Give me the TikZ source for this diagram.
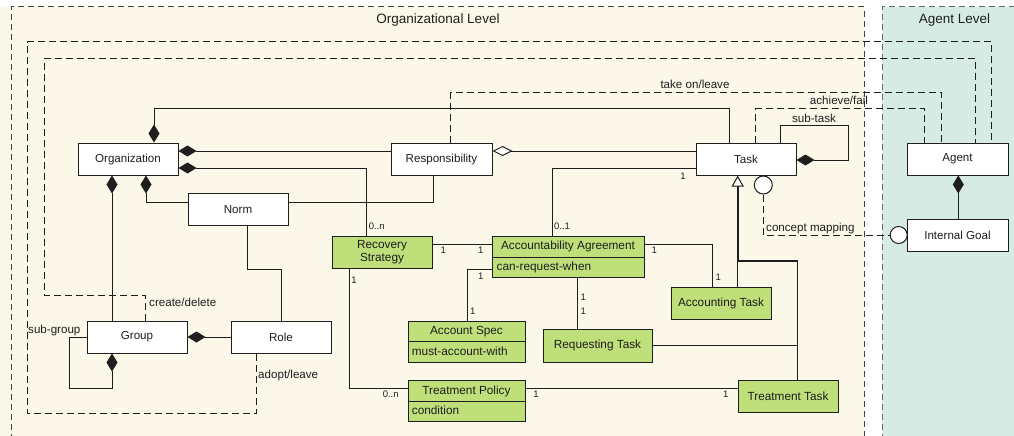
\documentclass[tikz,border=0pt]{standalone}
\usepackage{fontspec}
\setmainfont{Liberation Sans}
\usetikzlibrary{arrows.meta}
\definecolor{umlgreen}{RGB}{190,223,122}
\definecolor{orgbg}{RGB}{251,248,233}
\definecolor{agentbg}{RGB}{214,235,227}
\definecolor{ink}{RGB}{30,30,30}
\tikzset{
  box/.style={draw=ink, line width=1pt, fill=white, minimum width=100pt,
    minimum height=32pt, inner sep=0pt, text=ink, font=\fontsize{11.6}{13}\selectfont},
  gbox/.style={box, fill=umlgreen, font=\fontsize{11.8}{12.7}\selectfont},
  conn/.style={draw=ink, line width=1pt},
  comp/.style={conn, {Diamond[length=18pt,width=11pt,fill=ink]}-},
  agg/.style={conn, {Diamond[length=20pt,width=10pt,fill=white]}-},
  gen/.style={conn, line width=1.6pt, {Triangle[open,length=11pt,width=12pt,fill=white,line width=1pt]}-},
  dsh/.style={conn, dash pattern=on 7pt off 4pt},
  region/.style={draw=black!75, line width=1pt, dash pattern=on 6pt off 4pt},
  mult/.style={font=\fontsize{9.5}{11}\selectfont, inner sep=0pt, text=ink},
  lbl/.style={font=\fontsize{11.6}{13}\selectfont, inner sep=0pt, text=ink},
  attr/.style={font=\fontsize{11.8}{13}\selectfont, inner sep=0pt, text=ink, anchor=west},
  iface/.style={circle, draw=ink, line width=1pt, fill=white, minimum size=18pt, inner sep=0pt},
}
\begin{document}
\begin{tikzpicture}[x=1pt, y=-1pt]
\useasboundingbox (0,0) rectangle (1014,436);

% level backgrounds
\fill[orgbg] (0,7) rectangle (864,436);
\fill[agentbg] (882,7) rectangle (1014,436);
\draw[region] (11,440) -- (11,7) -- (864,7) -- (864,440);
\draw[region, draw=black!60] (882,440) -- (882,7) -- (1018,7);
\node[lbl, font=\fontsize{13.5}{15}\selectfont] (orglevel) at (438,20) {Organizational Level};
\node[lbl, font=\fontsize{13.5}{15}\selectfont] (agentlevel) at (954.5,20) {Agent Level};

% organizational concepts
\node[box] (org) at (128,159) {Organization};
\node[box, minimum height=32.5pt] (norm) at (238,209.5) {Norm};
\node[box, minimum width=101pt] (resp) at (441.5,159) {Responsibility};
\node[box] (task) at (746,159) {Task};
\node[box] (group) at (137,337) {Group};
\node[box] (role) at (281,337) {Role};

% agent concepts
\node[box, minimum width=101pt] (agent) at (957.5,159) {Agent};
\node[box, minimum width=101pt] (igoal) at (957.5,235) {Internal Goal};

% accountability concepts
\node[gbox, align=center] (recov) at (382,252) {Recovery\\Strategy};
\node[gbox, minimum width=152pt, minimum height=41pt] (aa) at (568,256.5) {};
\node[lbl, font=\fontsize{11.8}{13}\selectfont] (aatitle) at (568,246.5) {Accountability Agreement};
\draw[line width=1pt, draw=ink] (aa.west |- 0,257) -- (aa.east |- 0,257);
\node[attr] (aaattr) at (496.5,267) {can-request-when};

\node[gbox, minimum width=117pt, minimum height=41pt] (aspec) at (466.5,341.5) {};
\node[lbl, font=\fontsize{11.8}{13}\selectfont] (aspectitle) at (466.5,332) {Account Spec};
\draw[line width=1pt, draw=ink] (aspec.west |- 0,341.7) -- (aspec.east |- 0,341.7);
\node[attr] (aspecattr) at (411.7,351) {must-account-with};

\node[gbox, minimum width=109pt, minimum height=33pt] (reqt) at (597.5,345.5) {Requesting Task};

\node[gbox, minimum width=117pt, minimum height=41pt] (tpol) at (466.5,400.5) {};
\node[lbl, font=\fontsize{11.8}{13}\selectfont] (tpoltitle) at (466.5,391.5) {Treatment Policy};
\draw[line width=1pt, draw=ink] (tpol.west |- 0,401.3) -- (tpol.east |- 0,401.3);
\node[attr] (tpolattr) at (411.7,410) {condition};

\node[gbox] (acct) at (721,303) {Accounting Task};
\node[gbox] (treat) at (788,396) {Treatment Task};

% interfaces for the concept mapping
\node[iface] (taskif) at (763.3,185) {};
\node[iface, minimum size=17pt] (goalif) at (898.7,235) {};

% composition / aggregation among organizational concepts
\draw[comp] ([xshift=26pt]org.north) -- (154,108) -- (729,108) -- ([xshift=-17pt]task.north);
\draw[comp] ([yshift=8pt]org.east) -- ([yshift=8pt]resp.west);
\draw[comp] ([yshift=-9pt]org.east) -| ([xshift=-16pt]recov.north);
\draw[comp] ([xshift=-16pt]org.south) -- ([xshift=-25pt]group.north);
\draw[comp] ([xshift=18pt]org.south) |- ([yshift=7.5pt]norm.west);
\draw[conn] ([yshift=7.5pt]norm.east) -| ([xshift=-8.5pt]resp.south);
\draw[conn] ([xshift=9.3pt]norm.south) -- (247.3,269.3) -| (role.north);
\draw[agg] ([yshift=8pt]resp.east) -- ([yshift=8pt]task.west);
\draw[comp] (group.east) -- (role.west);
\draw[comp] ([xshift=-25pt]group.south) -- (112,388.3) -| (69.3,337) -- (group.west);
\node[lbl, anchor=west] (subgroup) at (28,330) {sub-group};
\draw[comp] ([yshift=-1pt]task.east) -- (848,160) |- (780.7,125.7) -- ([xshift=34.7pt]task.north);
\node[lbl] (subtask) at (814,118.5) {sub-task};
\draw[comp] ([xshift=0.8pt]agent.south) -- ([xshift=0.8pt]igoal.north);

% task to accountability agreement
\draw[conn] ([yshift=-9pt]task.west) -| ([xshift=-16pt]aa.north);
\node[mult] (m1) at (683,176) {1};
\node[mult] (m2) at (562,226.7) {0..1};
\node[mult] (m3) at (376.7,226.7) {0..n};

% accountability relations
\draw[conn] ([yshift=7.7pt]recov.east) -- ([yshift=12.2pt]aa.west);
\node[mult] (m4) at (443.3,250.7) {1};
\node[mult] (m5) at (480.7,250.7) {1};
\draw[conn] ([yshift=12.2pt]aa.east) -| ([xshift=-8.3pt]acct.north);
\node[mult] (m6) at (654.3,250.7) {1};
\node[mult] (m7) at (718.3,277.7) {1};
\draw[conn] ([yshift=-12.8pt]aa.west) -| ([xshift=0.8pt]aspec.north);
\node[mult] (m8) at (480.7,276.7) {1};
\node[mult] (m9) at (472.7,311) {1};
\draw[conn] ([xshift=9.3pt]aa.south) -- ([xshift=-20.2pt]reqt.north);
\node[mult] (m10) at (583.3,297.7) {1};
\node[mult] (m11) at (583.3,311.7) {1};
\draw[conn] ([xshift=-33pt]recov.south) |- ([yshift=12.2pt]tpol.west);
\node[mult] (m12) at (354,280) {1};
\node[mult] (m13) at (390.7,394) {0..n};
\draw[conn] ([yshift=12.2pt]tpol.east) -- ([yshift=7.7pt]treat.west);
\node[mult] (m14) at (536,394) {1};
\node[mult] (m15) at (725.7,394) {1};

% specialisations of Task
\coordinate (split) at (737.7,261);
\draw[gen] ([xshift=-8.3pt]task.south) -- (split) -| ([xshift=9.3pt]treat.north);
\draw[conn] (split) -- ([xshift=16.7pt]acct.north);
\draw[conn] (reqt.east) -- (797.3,345.5);

% agent level links
\draw[dsh] ([xshift=9.2pt]resp.north) -- (450.7,92.3) -| ([xshift=-16.5pt]agent.north);
\node[lbl] (takeon) at (695,84) {take on/leave};
\draw[dsh] ([xshift=9.7pt]task.north) -- (755.7,108.3) -| ([xshift=-33.2pt]agent.north);
\node[lbl] (achieve) at (839,100) {achieve/fail};
\draw[dsh] ([xshift=8.7pt]group.north) -- (145.7,295) -- (44.3,295) -- (44.3,58.3) -| ([xshift=17.5pt]agent.north);
\node[lbl, anchor=west] (create) at (149,302.7) {create/delete};
\draw[dsh] ([xshift=-25pt]role.south) -- (256,413.3) -- (27.3,413.3) -- (27.3,41.7) -| ([xshift=34.2pt]agent.north);
\node[lbl, anchor=west] (adopt) at (258,375) {adopt/leave};
\draw[dsh] (taskif.south) |- (goalif.west);
\node[lbl, anchor=west] (mapping) at (766,228.3) {concept mapping};
\end{tikzpicture}
\end{document}
